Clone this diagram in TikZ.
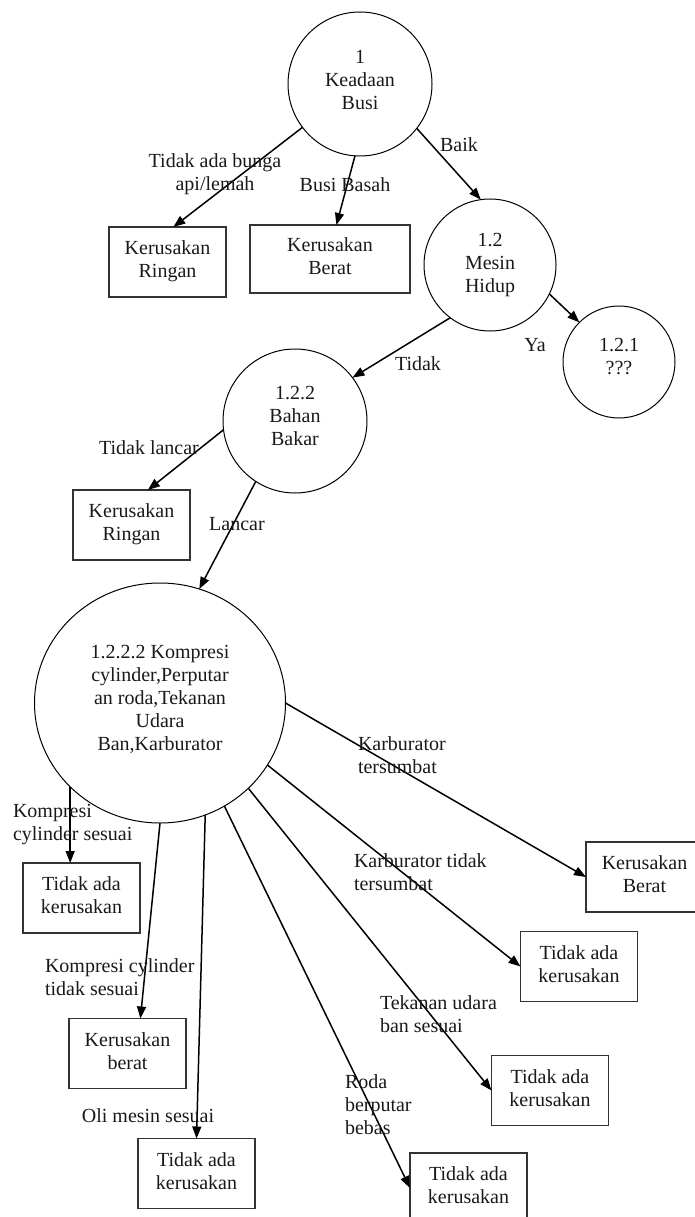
\documentclass[tikz,border=0pt]{standalone}
\usepackage{fontspec}
\setmainfont{Liberation Serif}
\usetikzlibrary{arrows.meta,shapes.geometric,calc}
\newcommand{\mlc}[2][0pt]{\begin{tabular}{@{}c@{}}#2\\[#1]\end{tabular}}
\newcommand{\mll}[1]{\begin{tabular}{@{}l@{}}#1\end{tabular}}
\begin{document}
\begin{tikzpicture}[x=1pt,y=-1pt,
  every node/.style={font=\fontsize{20}{23}\selectfont, inner sep=0pt, outer sep=0pt, text=black!90},
  proc/.style={draw, circle, line width=1pt},
  box/.style={draw=black!80, rectangle, line width=1.4pt, minimum width=117pt, minimum height=70pt},
  flow/.style={line width=1.5pt, -{Triangle[length=12pt,width=9pt]}}
]
\useasboundingbox (0,0) rectangle (694,1217);

% processes
\node[proc, minimum size=144pt] (c1) at (360,84) {\mlc[5pt]{1\\Keadaan\\Busi}};
\node[proc, minimum size=132pt] (c12) at (490,265) {\mlc[0pt]{1.2\\Mesin\\Hidup}};
\node[proc, minimum size=112pt] (c121) at (619,362) {\mlc[8pt]{1.2.1\\???}};
\node[proc, minimum size=144pt] (c122) at (295,421) {\mlc[7pt]{1.2.2\\Bahan\\Bakar}};
\node[draw, ellipse, line width=1pt, minimum width=251pt, minimum height=240pt] (c1222) at (160,703)
  {\mlc[6pt]{1.2.2.2 Kompresi\\cylinder,Perputar\\an roda,Tekanan\\Udara\\Ban,Karburator}};

% boxes
\node[box] (r1) at (167.5,262) {\mlc[1pt]{Kerusakan\\Ringan}};
\node[box, minimum width=160pt, minimum height=68pt] (b1) at (330,259) {\mlc[1pt]{Kerusakan\\Berat}};
\node[box] (r2) at (131.5,525) {\mlc[1pt]{Kerusakan\\Ringan}};
\node[box] (kb) at (644.5,877) {\mlc[1pt]{Kerusakan\\Berat}};
\node[box] (ta) at (579,966.5) {\mlc[1pt]{Tidak ada\\kerusakan}};
\node[box] (tb) at (550,1090.5) {\mlc[1pt]{Tidak ada\\kerusakan}};
\node[box] (tc) at (468.5,1188) {\mlc[1pt]{Tidak ada\\kerusakan}};
\node[box] (td) at (196.5,1173.5) {\mlc[1pt]{Tidak ada\\kerusakan}};
\node[box] (te) at (127.5,1053.5) {\mlc[1pt]{Kerusakan\\berat}};
\node[box] (tf) at (81.5,898) {\mlc[1pt]{Tidak ada\\kerusakan}};

% connectors
\draw[flow] (c1.217) -- ($(r1.north west)!0.55!(r1.north east)$);
\draw[flow] (c1.266) -- ($(b1.north west)!0.54!(b1.north east)$);
\draw[flow] (c1.322.5) -- (c12.98);
\draw[flow] (c12.233) -- (c122.37.5);
\draw[flow] (c12.334) -- (c121.135);
\draw[flow] (c122.187) -- ($(r2.north west)!0.64!(r2.north east)$);
\draw[flow] (c122.237) -- (c1222.71);
\draw[flow] (c1222.0) -- (kb.west);
\draw[flow] (c1222.330.6) -- (ta.west);
\draw[flow] (c1222.316) -- (tb.west);
\draw[flow] (c1222.302.8) -- (tc.west);
\draw[flow] (c1222.292) -- (td.north);
\draw[flow] (c1222.270) -- ($(te.north west)!0.61!(te.north east)$);
\draw[flow] (c1222.223.4) -- (c1222.223.4 |- tf.north);

% labels
\node (l1) at (215,174) {\mlc{Tidak ada bunga\\api/lemah}};
\node (l2) at (345,187) {\mlc{Busi Basah}};
\node (l3) at (459,147) {\mlc{Baik}};
\node (l4) at (418,366) {\mlc{Tidak}};
\node (l5) at (535,347) {\mlc{Ya}};
\node (l6) at (149,450) {\mlc{Tidak lancar}};
\node (l7) at (237,526) {\mlc{Lancar}};
\node[anchor=west] (l8) at (358,757) {\mll{Karburator\\tersumbat}};
\node[anchor=west] (l9) at (354,874) {\mll{Karburator tidak\\tersumbat}};
\node[anchor=west] (l10) at (380,1016) {\mll{Tekanan udara\\ban sesuai}};
\node[anchor=west] (l11) at (345,1107) {\mll{Roda\\berputar\\bebas}};
\node (l12) at (148,1118) {\mlc{Oli mesin sesuai}};
\node[anchor=west] (l13) at (45,979) {\mll{Kompresi cylinder\\tidak sesuai}};
\node[anchor=west] (l14) at (13,824) {\mll{Kompresi\\cylinder sesuai}};
\end{tikzpicture}
\end{document}
